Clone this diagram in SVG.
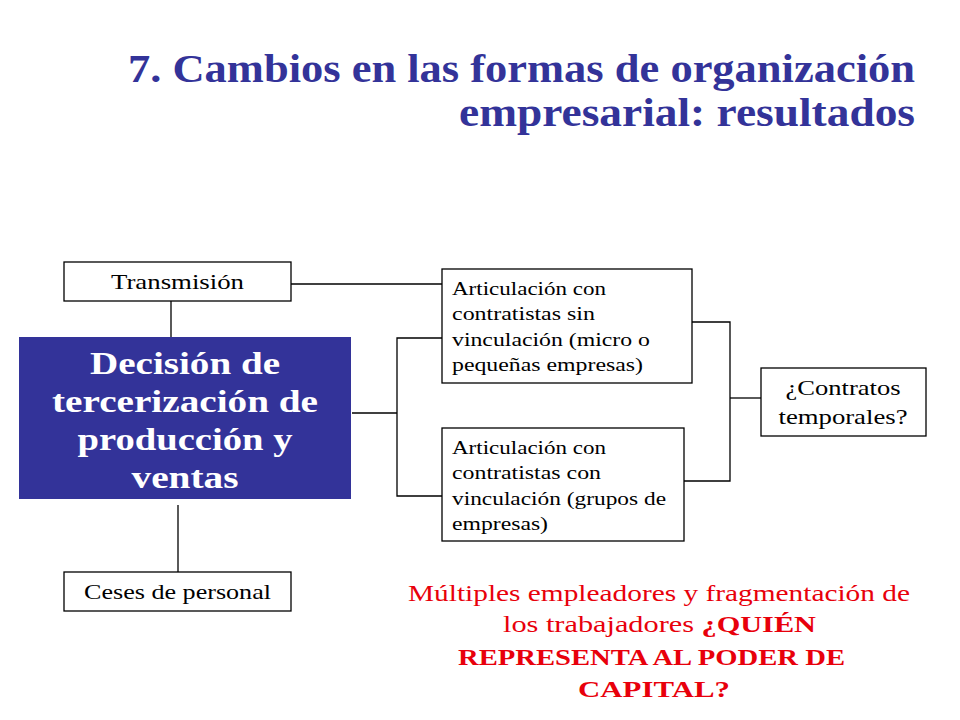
<svg xmlns="http://www.w3.org/2000/svg" width="960" height="720" viewBox="0 0 960 720">
<style>
.box{fill:#ffffff;stroke:#000000;stroke-width:1.3}
.main{fill:#333399;stroke:none}
.ln{fill:none;stroke:#000000;stroke-width:1.3}
.t{font-family:"Liberation Serif","Times New Roman",serif;fill:#000000}
.title{font-family:"Liberation Serif","Times New Roman",serif;font-weight:bold;fill:#333399;font-size:39px}
.mt{font-family:"Liberation Serif","Times New Roman",serif;font-weight:bold;fill:#ffffff;font-size:32px}
.red{font-family:"Liberation Serif","Times New Roman",serif;fill:#E8000B;font-size:24px}
</style>
<rect width="960" height="720" fill="#ffffff"/>
<g id="title">
<text class="title" x="915" y="82" text-anchor="end" textLength="787" lengthAdjust="spacingAndGlyphs">7. Cambios en las formas de organización</text>
<text class="title" x="915" y="126" text-anchor="end" textLength="456" lengthAdjust="spacingAndGlyphs">empresarial: resultados</text>
</g>
<g id="connectors">
<line class="ln" x1="171" y1="301" x2="171" y2="337"/>
<line class="ln" x1="178" y1="505" x2="178" y2="572"/>
<line class="ln" x1="291" y1="284" x2="442" y2="284"/>
<line class="ln" x1="352" y1="413" x2="397" y2="413"/>
<polyline class="ln" points="442,338 397,338 397,496 442,496"/>
<polyline class="ln" points="692,322 730,322 730,481 684,481"/>
<line class="ln" x1="730" y1="398" x2="761" y2="398"/>
</g>
<g id="transmision">
<rect class="box" x="64" y="262" width="227" height="39"/>
<text class="t" x="177.5" y="289" font-size="22" text-anchor="middle" textLength="133" lengthAdjust="spacingAndGlyphs">Transmisión</text>
</g>
<g id="decision">
<rect class="main" x="19" y="337" width="332" height="162"/>
<text class="mt" x="185" y="374" text-anchor="middle" textLength="190" lengthAdjust="spacingAndGlyphs">Decisión de</text>
<text class="mt" x="185" y="412" text-anchor="middle" textLength="266" lengthAdjust="spacingAndGlyphs">tercerización de</text>
<text class="mt" x="185" y="450" text-anchor="middle" textLength="215" lengthAdjust="spacingAndGlyphs">producción y</text>
<text class="mt" x="185" y="488" text-anchor="middle" textLength="107" lengthAdjust="spacingAndGlyphs">ventas</text>
</g>
<g id="ceses">
<rect class="box" x="64" y="572" width="227" height="39"/>
<text class="t" x="177.5" y="599" font-size="22" text-anchor="middle" textLength="187" lengthAdjust="spacingAndGlyphs">Ceses de personal</text>
</g>
<g id="sin-vinculacion">
<rect class="box" x="442" y="269" width="250" height="114"/>
<text class="t" x="452" y="295" font-size="18" textLength="154" lengthAdjust="spacingAndGlyphs">Articulación con</text>
<text class="t" x="452" y="320" font-size="18" textLength="143" lengthAdjust="spacingAndGlyphs">contratistas sin</text>
<text class="t" x="452" y="346" font-size="18" textLength="198" lengthAdjust="spacingAndGlyphs">vinculación (micro  o</text>
<text class="t" x="452" y="371" font-size="18" textLength="191" lengthAdjust="spacingAndGlyphs">pequeñas empresas)</text>
</g>
<g id="con-vinculacion">
<rect class="box" x="442" y="428" width="242" height="113"/>
<text class="t" x="452" y="454" font-size="18" textLength="154" lengthAdjust="spacingAndGlyphs">Articulación con</text>
<text class="t" x="452" y="479" font-size="18" textLength="149" lengthAdjust="spacingAndGlyphs">contratistas con</text>
<text class="t" x="452" y="505" font-size="18" textLength="214" lengthAdjust="spacingAndGlyphs">vinculación (grupos de</text>
<text class="t" x="452" y="530" font-size="18" textLength="96" lengthAdjust="spacingAndGlyphs">empresas)</text>
</g>
<g id="contratos">
<rect class="box" x="761" y="368" width="165" height="68"/>
<text class="t" x="843" y="395" font-size="22" text-anchor="middle" textLength="115" lengthAdjust="spacingAndGlyphs">¿Contratos</text>
<text class="t" x="843" y="424" font-size="22" text-anchor="middle" textLength="129" lengthAdjust="spacingAndGlyphs">temporales?</text>
</g>
<g id="nota">
<text class="red" x="659" y="601" text-anchor="middle" textLength="502" lengthAdjust="spacingAndGlyphs">Múltiples empleadores y fragmentación de</text>
<text class="red" x="659.5" y="632" text-anchor="middle" textLength="313" lengthAdjust="spacingAndGlyphs">los trabajadores <tspan font-weight="bold">¿QUIÉN</tspan></text>
<text class="red" x="651.5" y="665" text-anchor="middle" font-weight="bold" textLength="387" lengthAdjust="spacingAndGlyphs">REPRESENTA AL PODER DE</text>
<text class="red" x="654" y="697" text-anchor="middle" font-weight="bold" textLength="152" lengthAdjust="spacingAndGlyphs">CAPITAL?</text>
</g>
</svg>
